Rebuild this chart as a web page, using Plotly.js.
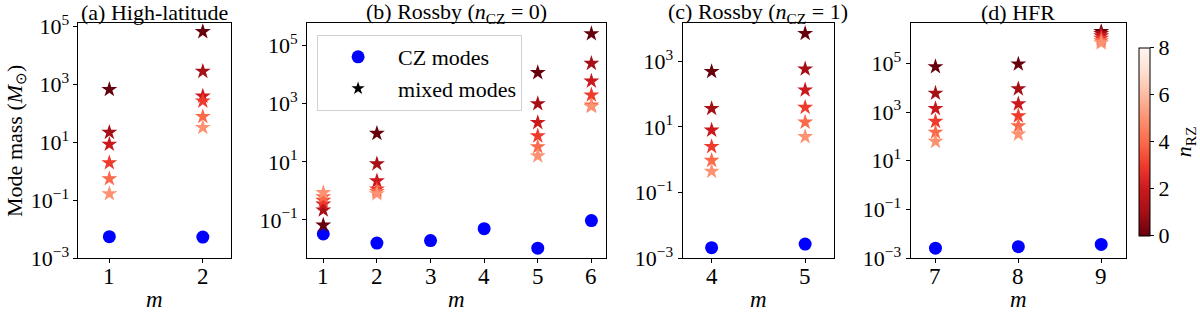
<!DOCTYPE html>
<html>
<head>
<meta charset="utf-8">
<script src="https://cdn.plot.ly/plotly-3.0.1.min.js"></script>
<style>html,body{margin:0;padding:0;background:#fff}#chart{width:1200px;height:313px}</style>
</head>
<body>
<div id="chart"></div>
<script>
// ---- Data ----
// n_RZ index of each mixed-mode star (same order in every column)
const nRZ = [0, 1, 2, 3, 4, 5];

// (a) High-latitude
const aCzM = [1, 2];
const aCzMass = [0.0056, 0.0054];
const aMixM = [1,1,1,1,1,1, 2,2,2,2,2,2];
const aMixMass = [680, 22.4, 8.7, 2.0, 0.56, 0.17,  67600, 2880, 400, 270, 79, 33];

// (b) Rossby (n_CZ = 0)
const bCzM = [1, 2, 3, 4, 5, 6];
const bCzMass = [0.033, 0.016, 0.0195, 0.050, 0.0107, 0.095];
const bMixM = [1,1,1,1,1,1, 2,2,2,2,2,2, 5,5,5,5,5,5, 6,6,6,6,6,6];
const bMixMass = [0.066, 0.22, 0.35, 0.47, 0.63, 0.87,
                  95, 8.5, 2.2, 1.15, 0.95, 0.79,
                  11700, 1000, 224, 78, 33, 16,
                  257000, 24500, 6000, 2000, 890, 800];

// (c) Rossby (n_CZ = 1)
const cCzM = [4, 5];
const cCzMass = [0.0021, 0.0027];
const cMixM = [4,4,4,4,4,4, 5,5,5,5,5,5];
const cMixMass = [480, 36, 7.9, 2.5, 0.95, 0.44,  6900, 575, 132, 39, 13.8, 5.0];

// (d) HFR
const dCzM = [7, 8, 9];
const dCzMass = [0.0026, 0.0030, 0.0037];
const dMixM = [7,7,7,7,7,7, 8,8,8,8,8,8, 9,9,9,9,9,9];
const dMixMass = [72000, 5900, 1380, 410, 148, 62,
                  93000, 8900, 2140, 690, 270, 123,
                  2.0e6, 1.66e6, 1.32e6, 1.05e6, 8.3e5, 6.8e5];

const panelTitles = ['(a) High-latitude', '(b) Rossby (<i>n</i><sub>CZ</sub> = 0)',
                     '(c) Rossby (<i>n</i><sub>CZ</sub> = 1)', '(d) HFR'];
const xLabel = '<i>m</i>';
const yLabel = 'Mode mass (<i>M</i><sub>\u2299</sub>)';
const legendNames = ['CZ modes', 'mixed modes'];
const cbTicks = [0, 2, 4, 6, 8];

// ---- Styling ----
const FONT = 'Liberation Serif, Times New Roman, serif';
const RedsR = [[0, '#67000d'], [0.125, '#a50f15'], [0.25, '#cb181d'], [0.375, '#ef3b2c'],
               [0.5, '#fb6a4a'], [0.625, '#fc9272'], [0.75, '#fcbba1'], [0.875, '#fee0d2'], [1, '#fff5f0']];

function repN(arr) { return arr.map((_, i) => nRZ[i % nRZ.length]); }

const panels = [
  {czM: aCzM, czMass: aCzMass, mixM: aMixM, mixMass: aMixMass, xs: 'x', ys: 'y'},
  {czM: bCzM, czMass: bCzMass, mixM: bMixM, mixMass: bMixMass, xs: 'x2', ys: 'y2'},
  {czM: cCzM, czMass: cCzMass, mixM: cMixM, mixMass: cMixMass, xs: 'x3', ys: 'y3'},
  {czM: dCzM, czMass: dCzMass, mixM: dMixM, mixMass: dMixMass, xs: 'x4', ys: 'y4'}
];

const traces = [];
panels.forEach((p, i) => {
  traces.push({
    type: 'scatter', mode: 'markers', x: p.czM, y: p.czMass, xaxis: p.xs, yaxis: p.ys,
    marker: {color: '#0000ff', size: 13, line: {width: 0}},
    name: legendNames[0], showlegend: i === 1, hoverinfo: 'x+y'
  });
  traces.push({
    type: 'scatter', mode: 'markers', x: p.mixM, y: p.mixMass, xaxis: p.xs, yaxis: p.ys,
    marker: {symbol: 'star', size: 12, line: {width: 0}, color: repN(p.mixMass),
             colorscale: RedsR, cmin: 0, cmax: 8,
             showscale: i === 3,
             colorbar: {x: 0.955, xanchor: 'left', xpad: 0, ypad: 0, thickness: 11, thicknessmode: 'pixels',
                        len: 0.6006, y: 0.547, yanchor: 'middle', outlinewidth: 1, outlinecolor: '#000',
                        tickvals: cbTicks, ticks: 'outside', ticklen: 4, tickcolor: '#000',
                        tickfont: {family: FONT, size: 22, color: '#000'},
                        title: {text: '<i>n</i><sub>RZ</sub>', side: 'right', font: {family: FONT, size: 22, color: '#000'}}}},
    name: legendNames[1], showlegend: false, hoverinfo: 'x+y'
  });
});
// legend-only entry for the mixed modes (black star)
traces.push({type: 'scatter', mode: 'markers', x: [null], y: [null], xaxis: 'x2', yaxis: 'y2',
  marker: {symbol: 'star', size: 10, color: '#000'}, name: legendNames[1], showlegend: true});

function supLabel(e) { return '10<sup>' + (e < 0 ? '\u2212' + (-e) : e) + '</sup>'; }

const yDom = [0.1748, 0.9256];
const xDoms = [[0.0658, 0.1935], [0.2575, 0.5083], [0.5722, 0.6992], [0.7633, 0.9439]];
const xRanges = [[0.67, 2.30], [0.70, 6.28], [3.69, 5.31], [6.70, 9.30]];
const yRanges = [[-3, 5.12], [-2.32, 5.77], [-3, 4.15], [-3, 6.64]];
const yTickExps = [[-3, -1, 1, 3, 5], [-1, 1, 3, 5], [-3, -1, 1, 3], [-3, -1, 1, 3, 5]];
const xTicks = [[1, 2], [1, 2, 3, 4, 5, 6], [4, 5], [7, 8, 9]];

const layout = {
  width: 1200, height: 313, margin: {l: 0, r: 0, t: 0, b: 0},
  paper_bgcolor: '#fff', plot_bgcolor: '#fff',
  font: {family: FONT, size: 22, color: '#000'},
  showlegend: true,
  legend: {x: 0.2658, y: 0.888, xanchor: 'left', yanchor: 'top', bgcolor: '#fff',
           bordercolor: '#d0d0d0', borderwidth: 1, font: {family: FONT, size: 22},
           itemwidth: 70, tracegroupgap: 4},
  annotations: [],
  shapes: [],
};

const TICKLEN_PX = 4;
for (let i = 0; i < 4; i++) {
  const sx = i === 0 ? '' : String(i + 1);
  layout['xaxis' + sx] = {
    domain: xDoms[i], range: xRanges[i], anchor: 'y' + sx,
    tickvals: xTicks[i], showticklabels: false,
    showline: true, mirror: true, linecolor: '#000', linewidth: 1,
    ticks: 'outside', ticklen: TICKLEN_PX, tickcolor: '#000', showgrid: false, zeroline: false
  };
  // x tick labels, placed at the tick values of each axis
  xTicks[i].forEach(v => {
    layout.annotations.push({
      text: String(v), xref: 'x' + sx, yref: 'paper', x: v, y: 1 - 276 / 313,
      xanchor: 'center', yanchor: 'middle', showarrow: false, borderpad: 0,
      font: {family: FONT, size: 23, color: '#000'}
    });
  });
  layout['yaxis' + sx] = {
    domain: yDom, type: 'log', range: yRanges[i], anchor: 'x' + sx,
    tickvals: yTickExps[i].map(e => Math.pow(10, e)), ticktext: yTickExps[i].map(supLabel),
    showline: true, mirror: true, linecolor: '#000', linewidth: 1,
    ticks: 'outside', ticklen: TICKLEN_PX, tickcolor: '#000', showgrid: false, zeroline: false,
    tickfont: {family: FONT, size: 22}
  };
  layout.annotations.push({
    text: panelTitles[i], xref: 'paper', yref: 'paper',
    x: (xDoms[i][0] + xDoms[i][1]) / 2, y: 1 - 13 / 313,
    xanchor: 'center', yanchor: 'middle', showarrow: false, borderpad: 0,
    font: {family: FONT, size: 22, color: '#000'}
  });
  layout.annotations.push({
    text: xLabel, xref: 'paper', yref: 'paper',
    x: (xDoms[i][0] + xDoms[i][1]) / 2, y: 0,
    xanchor: 'center', yanchor: 'bottom', showarrow: false, borderpad: 0,
    font: {family: FONT, size: 23, color: '#000'}
  });
}
layout.yaxis.title = {text: yLabel, font: {family: FONT, size: 22}, standoff: 2};

Plotly.newPlot('chart', traces, layout, {staticPlot: true, displayModeBar: false});
</script>
</body>
</html>
